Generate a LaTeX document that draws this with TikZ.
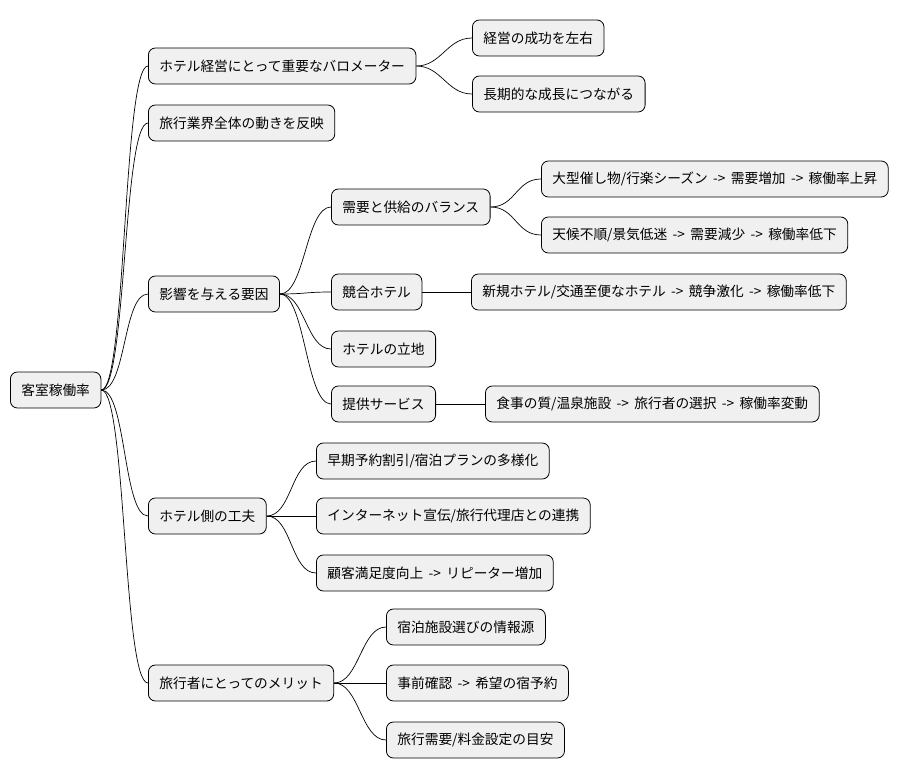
\documentclass[tikz,border=0pt]{standalone}
\usepackage{fontspec}
\setmainfont{Noto Sans CJK JP}
\begin{document}
\begin{tikzpicture}[x=1pt,y=-1pt,
  box/.style={draw=black,line width=0.8pt,fill=black!6,rounded corners=7pt,minimum height=36pt,inner xsep=11pt,anchor=west,font=\fontsize{13.7}{15}\selectfont},
  lnk/.style={draw=black,line width=0.7pt}]
\useasboundingbox (0,0) rectangle (909,781);
\node[box] (r) at (10,390) {客室稼働率};
\node[box] (a) at (148,66) {ホテル経営にとって重要なバロメーター};
\node[box] (a1) at (472,38) {経営の成功を左右};
\node[box] (a2) at (472,94) {長期的な成長につながる};
\node[box] (b) at (148,123) {旅行業界全体の動きを反映};
\node[box] (c) at (148,294) {影響を与える要因};
\node[box] (c1) at (331,207) {需要と供給のバランス};
\node[box] (c11) at (541,179) {大型催し物/行楽シーズン \,->\, 需要増加 \,->\, 稼働率上昇};
\node[box] (c12) at (541,235) {天候不順/景気低迷 \,->\, 需要減少 \,->\, 稼働率低下};
\node[box] (c2) at (331,292) {競合ホテル};
\node[box] (c21) at (471,292) {新規ホテル/交通至便なホテル \,->\, 競争激化 \,->\, 稼働率低下};
\node[box] (c3) at (331,349) {ホテルの立地};
\node[box] (c4) at (331,404) {提供サービス};
\node[box] (c41) at (485,404) {食事の質/温泉施設 \,->\, 旅行者の選択 \,->\, 稼働率変動};
\node[box] (d) at (148,516) {ホテル側の工夫};
\node[box] (d1) at (316,461) {早期予約割引/宿泊プランの多様化};
\node[box] (d2) at (316,516) {インターネット宣伝/旅行代理店との連携};
\node[box] (d3) at (316,573) {顧客満足度向上 \,->\, リピーター増加};
\node[box] (e) at (148,683) {旅行者にとってのメリット};
\node[box] (e1) at (386,627) {宿泊施設選びの情報源};
\node[box] (e2) at (386,683) {事前確認 \,->\, 希望の宿予約};
\node[box] (e3) at (386,740) {旅行需要/料金設定の目安};
\foreach \p/\c in {r/a,r/b,r/c,r/d,r/e,a/a1,a/a2,c/c1,c/c2,c/c3,c/c4,c1/c11,c1/c12,c2/c21,c4/c41,d/d1,d/d2,d/d3,e/e1,e/e2,e/e3}
  \draw[lnk] (\p.east) .. controls +(25,0) and +(-25,0) .. (\c.west);
\end{tikzpicture}
\end{document}
